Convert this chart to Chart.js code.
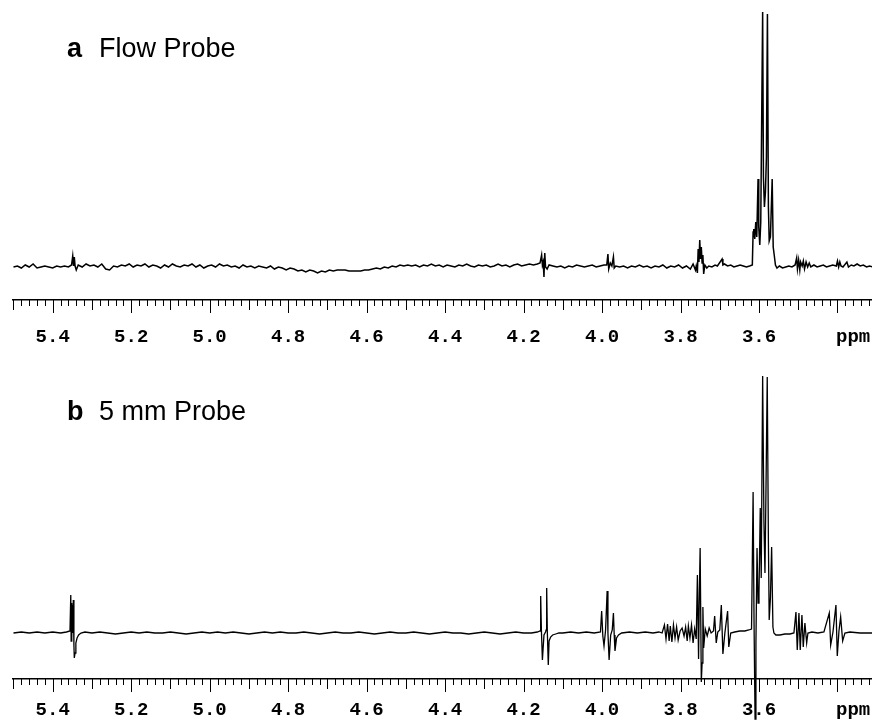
<!DOCTYPE html>
<html>
<head>
<meta charset="utf-8">
<script src="https://cdn.jsdelivr.net/npm/chart.js@4.4.1/dist/chart.umd.min.js"></script>
<style>
  html, body { margin: 0; padding: 0; background: #ffffff; }
  #wrap { position: relative; width: 872px; height: 721px; }
  canvas { position: absolute; left: 0; }
  #c1 { top: 0; }
  #c2 { top: 360px; }
</style>
</head>
<body>
<div id="wrap">
  <canvas id="c1" width="872" height="360"></canvas>
  <canvas id="c2" width="872" height="361"></canvas>
</div>
<script>
// ---- Data (ppm, intensity above baseline) ----
const tickLabels = ['5.4', '5.2', '5.0', '4.8', '4.6', '4.4', '4.2', '4.0', '3.8', '3.6'];
const unitLabel = 'ppm';
const unitLabelPos = 3.36;
const ppmRange = [3.312, 5.502];

const titleA = ['a', 'Flow Probe'];
const titleB = ['b', '5 mm Probe'];

// Spectrum a: Flow Probe
const spectrumA = [
  [5.500,0],[5.490,1],[5.480,-1],[5.470,2],[5.460,0],[5.450,3],[5.440,-1],[5.430,0],[5.420,1],[5.410,0],
  [5.400,-1],[5.390,1],[5.380,0],[5.370,1],[5.360,0],[5.352,2],[5.349,11],[5.347,1],[5.345,10],[5.343,1],
  [5.340,-3],[5.335,2],[5.325,0],[5.315,3],[5.305,1],[5.295,2],[5.285,0],[5.275,3],[5.265,-2],[5.255,-3],
  [5.245,1],[5.235,0],[5.225,2],[5.215,1],[5.205,3],[5.195,0],[5.185,2],[5.175,1],[5.165,3],[5.155,0],
  [5.145,2],[5.135,1],[5.125,-1],[5.115,2],[5.105,0],[5.095,3],[5.085,1],[5.075,0],[5.065,2],[5.055,1],
  [5.045,3],[5.035,0],[5.025,2],[5.015,-1],[5.005,1],[4.995,2],[4.985,0],[4.975,3],[4.965,1],[4.955,2],
  [4.945,0],[4.935,1],[4.925,-1],[4.915,2],[4.905,0],[4.895,1],[4.885,-1],[4.875,1],[4.865,0],[4.855,-1],
  [4.845,1],[4.835,-2],[4.825,0],[4.815,-1],[4.805,-3],[4.795,-1],[4.785,-2],[4.775,-4],[4.765,-3],[4.755,-5],
  [4.745,-3],[4.735,-4],[4.725,-6],[4.715,-4],[4.705,-5],[4.695,-3],[4.685,-4],[4.675,-3],[4.665,-3],[4.655,-3],
  [4.645,-4],[4.635,-4],[4.625,-4],[4.615,-4],[4.605,-3],[4.595,-3],[4.585,-2],[4.575,-1],[4.565,-2],[4.555,0],
  [4.545,-1],[4.535,1],[4.525,0],[4.515,2],[4.505,1],[4.495,2],[4.485,1],[4.475,2],[4.465,0],[4.455,2],
  [4.445,1],[4.435,3],[4.425,1],[4.415,2],[4.405,0],[4.395,2],[4.385,1],[4.375,0],[4.365,2],[4.355,1],
  [4.345,3],[4.335,1],[4.325,0],[4.315,2],[4.305,1],[4.295,2],[4.285,0],[4.275,1],[4.265,3],[4.255,1],
  [4.245,2],[4.235,0],[4.225,2],[4.215,3],[4.205,1],[4.195,2],[4.185,3],[4.175,2],[4.165,3],[4.158,4],
  [4.154,12],[4.152,2],[4.150,5],[4.148,-10],[4.146,14],[4.144,0],[4.140,-2],[4.135,2],[4.125,1],[4.115,0],
  [4.105,1],[4.095,-1],[4.085,1],[4.075,0],[4.065,2],[4.055,1],[4.045,0],[4.035,1],[4.025,2],[4.015,0],
  [4.005,1],[3.995,2],[3.988,2],[3.985,13],[3.983,-2],[3.979,4],[3.975,1],[3.971,10],[3.969,-1],[3.965,1],
  [3.955,0],[3.945,1],[3.935,-1],[3.925,1],[3.915,0],[3.905,2],[3.895,0],[3.885,1],[3.875,-1],[3.865,1],
  [3.855,0],[3.845,2],[3.835,-1],[3.825,1],[3.815,0],[3.805,2],[3.795,-1],[3.785,1],[3.775,-2],[3.768,3],
  [3.762,-3],[3.760,1],[3.757,-6],[3.755,18],[3.753,5],[3.751,27],[3.749,8],[3.747,20],[3.745,4],[3.743,12],
  [3.741,-7],[3.738,2],[3.733,-1],[3.728,1],[3.720,0],[3.712,2],[3.706,1],[3.694,8],[3.692,2],[3.688,3],
  [3.680,1],[3.672,2],[3.664,0],[3.656,1],[3.648,2],[3.640,1],[3.632,0],[3.624,1],[3.617,2],
  [3.615,35],[3.6133,38],[3.6108,28],[3.6082,45],[3.6057,30],[3.6024,88],[3.6006,40],[3.5980,22],[3.5955,45],
  [3.5907,255],[3.5887,90],[3.5862,60],[3.5836,75],[3.5811,110],[3.5785,253],[3.5760,60],[3.5740,26],
  [3.5709,30],[3.5664,88],[3.5638,20],[3.5612,12],[3.5581,2],[3.5542,-1],
  [3.548,1],[3.540,-1],[3.532,0],[3.524,1],[3.516,0],[3.508,2],[3.504,9],[3.502,-2],[3.499,7],[3.496,-3],
  [3.494,5],[3.490,1],[3.487,6],[3.484,-2],[3.480,5],[3.476,0],[3.472,4],[3.468,0],[3.460,2],[3.452,0],
  [3.444,1],[3.436,2],[3.428,0],[3.420,1],[3.412,2],[3.403,1],[3.400,6],[3.397,0],[3.394,5],[3.391,1],
  [3.386,0],[3.376,5],[3.372,0],[3.365,2],[3.358,1],[3.350,3],[3.342,1],[3.334,2],[3.326,0],[3.318,1],
  [3.310,0]
];

// Spectrum b: 5 mm Probe
const spectrumB = [
  [5.500,0],[5.480,1],[5.460,0],[5.440,1],[5.420,0],[5.400,1],[5.380,0],[5.365,1],[5.356,2],
  [5.354,38],[5.353,-8],[5.352,30],[5.351,-5],[5.350,28],[5.349,0],[5.3475,33],[5.346,-12],[5.345,-25],
  [5.343,-20],[5.341,-10],[5.338,-5],[5.334,-2],[5.328,0],[5.318,1],
  [5.30,0],[5.28,1],[5.26,0],[5.24,-1],[5.22,0],[5.20,1],[5.18,0],[5.16,1],[5.14,0],[5.12,0],
  [5.10,1],[5.08,0],[5.06,-1],[5.04,0],[5.02,1],[5.00,0],[4.98,1],[4.96,0],[4.94,1],[4.92,0],
  [4.90,-1],[4.88,0],[4.86,1],[4.84,0],[4.82,1],[4.80,0],[4.78,0],[4.76,1],[4.74,0],[4.72,-1],
  [4.70,0],[4.68,1],[4.66,0],[4.64,0],[4.62,1],[4.60,0],[4.58,-1],[4.56,0],[4.54,1],[4.52,0],
  [4.50,0],[4.48,1],[4.46,0],[4.44,-1],[4.42,0],[4.40,1],[4.38,0],[4.36,0],[4.34,-1],[4.32,0],
  [4.30,1],[4.28,0],[4.26,-1],[4.24,0],[4.22,1],[4.20,0],[4.18,0],[4.165,1],[4.158,2],
  [4.1564,37],[4.1545,2],[4.152,-27],[4.148,-2],[4.144,1],[4.1425,3],[4.1411,45],[4.1395,2],[4.137,-32],
  [4.135,-8],[4.131,-4],[4.126,-2],[4.118,-1],[4.110,0],
  [4.10,0],[4.08,1],[4.06,0],[4.04,1],[4.02,0],[4.004,1],
  [4.001,22],[3.998,-3],[3.995,-13],[3.991,3],[3.987,42],[3.985,0],[3.982,-27],[3.978,-2],[3.974,3],
  [3.971,20],[3.969,-2],[3.967,-18],[3.963,-5],[3.958,-2],[3.950,0],
  [3.93,1],[3.91,0],[3.89,1],[3.87,0],[3.855,1],[3.847,0],
  [3.845,0],[3.841,8],[3.837,-6],[3.833,9],[3.829,-8],[3.826,7],[3.822,-9],[3.818,8],[3.814,-5],[3.810,6],
  [3.806,-7],[3.801,2],[3.796,5],[3.791,-3],[3.787,6],[3.783,-8],[3.780,7],[3.776,-5],[3.772,8],[3.768,-10],
  [3.764,4],[3.760,-6],[3.757,58],[3.754,-26],[3.752,40],[3.750,85],[3.747,-49],[3.745,-30],[3.743,26],
  [3.741,-15],[3.737,4],[3.732,-3],[3.727,5],[3.722,0],[3.716,2],[3.713,17],[3.709,-10],[3.705,1],
  [3.700,3],[3.696,28],[3.692,-21],[3.687,0],[3.680,22],[3.677,-14],[3.672,0],[3.662,1],[3.649,2],
  [3.636,2],[3.626,3],[3.619,4],
  [3.615,141],[3.6126,10],[3.610,-86],[3.6078,-10],[3.605,85],[3.6024,30],[3.600,40],[3.5968,125],
  [3.5943,55],[3.5907,257],[3.5874,110],[3.5848,60],[3.5823,140],[3.579,256],[3.576,90],[3.574,13],
  [3.5709,35],[3.5678,86],[3.5645,6],[3.562,0],[3.557,-2],[3.5466,-2],[3.534,-1],[3.521,-1],[3.511,0],
  [3.5058,21],[3.5025,-17],[3.4982,20],[3.4949,-17],[3.4906,18],[3.4872,-14],[3.483,10],[3.4785,-10],
  [3.4753,0],[3.465,1],[3.4498,0],[3.4345,1],
  [3.4209,20],[3.4173,-12],[3.4115,1],[3.4039,28],[3.4005,-23],[3.3962,2],[3.3919,16],[3.3868,-8],
  [3.381,0],[3.3682,1],[3.3427,0],[3.312,0]
];

// ---- Helpers ----
function labelFor(value) {
  const r = Math.round(value * 100);
  if (r === Math.round(unitLabelPos * 100)) return unitLabel;
  for (const t of tickLabels) {
    if (Math.round(parseFloat(t) * 100) === r) return t;
  }
  return '';
}

const tickMarks = {
  id: 'tickMarks',
  afterDraw(chart) {
    const s = chart.scales.x;
    const ctx = chart.ctx;
    ctx.save();
    ctx.strokeStyle = '#000';
    ctx.lineWidth = 1;
    const y0 = s.top;
    s.ticks.forEach(t => {
      const r = Math.round(t.value * 100);
      const len = (r % 20 === 0) ? 13 : (r % 10 === 0 ? 10 : 6);
      const px = Math.round(s.getPixelForValue(t.value)) + 0.5;
      ctx.beginPath();
      ctx.moveTo(px, y0);
      ctx.lineTo(px, y0 + len);
      ctx.stroke();
    });
    ctx.restore();
  }
};

function titlePlugin(parts, x1, x2, baseline) {
  return {
    id: 'panelTitle',
    afterDraw(chart) {
      const ctx = chart.ctx;
      ctx.save();
      ctx.fillStyle = '#000';
      ctx.textBaseline = 'alphabetic';
      ctx.font = 'bold 27px "Liberation Sans", Arial, sans-serif';
      ctx.fillText(parts[0], x1, baseline);
      ctx.font = '27px "Liberation Sans", Arial, sans-serif';
      ctx.fillText(parts[1], x2, baseline);
      ctx.restore();
    }
  };
}

function makeChart(canvasId, points, yMin, yMax, axisHeight, labelOffset, title, titleBase, lw) {
  return new Chart(document.getElementById(canvasId), {
    type: 'line',
    data: {
      datasets: [{
        data: points.map(p => ({ x: p[0], y: p[1] })),
        borderColor: '#000',
        borderWidth: lw,
        pointRadius: 0,
        tension: 0,
        fill: false,
        clip: false
      }]
    },
    options: {
      responsive: false,
      animation: false,
      events: [],
      layout: { padding: { left: 12.7, right: 0, top: 0, bottom: 0 } },
      plugins: { legend: { display: false }, tooltip: { enabled: false }, title: { display: false } },
      scales: {
        x: {
          type: 'linear',
          reverse: true,
          min: ppmRange[0],
          max: ppmRange[1],
          afterFit: s => { s.height = axisHeight; s.paddingLeft = 0; s.paddingRight = 0; },
          border: { display: true, color: '#000', width: 1.5 },
          grid: { display: true, drawOnChartArea: false, drawTicks: true, tickLength: labelOffset, color: 'rgba(0,0,0,0)' },
          ticks: {
            stepSize: 0.02,
            autoSkip: false,
            includeBounds: false,
            maxRotation: 0,
            minRotation: 0,
            padding: 0,
            color: '#000',
            font: { family: '"Liberation Mono", "Courier New", monospace', size: 19, weight: 'bold' },
            callback: v => labelFor(v)
          }
        },
        y: { display: false, min: yMin, max: yMax }
      }
    },
    plugins: [tickMarks, titlePlugin(title, 67, 99, titleBase)]
  });
}

makeChart('c1', spectrumA, -33, 267, 60, 26, titleA, 57, 1.5);
makeChart('c2', spectrumB, -46, 273, 42, 20, titleB, 60, 1.3);
</script>
</body>
</html>
